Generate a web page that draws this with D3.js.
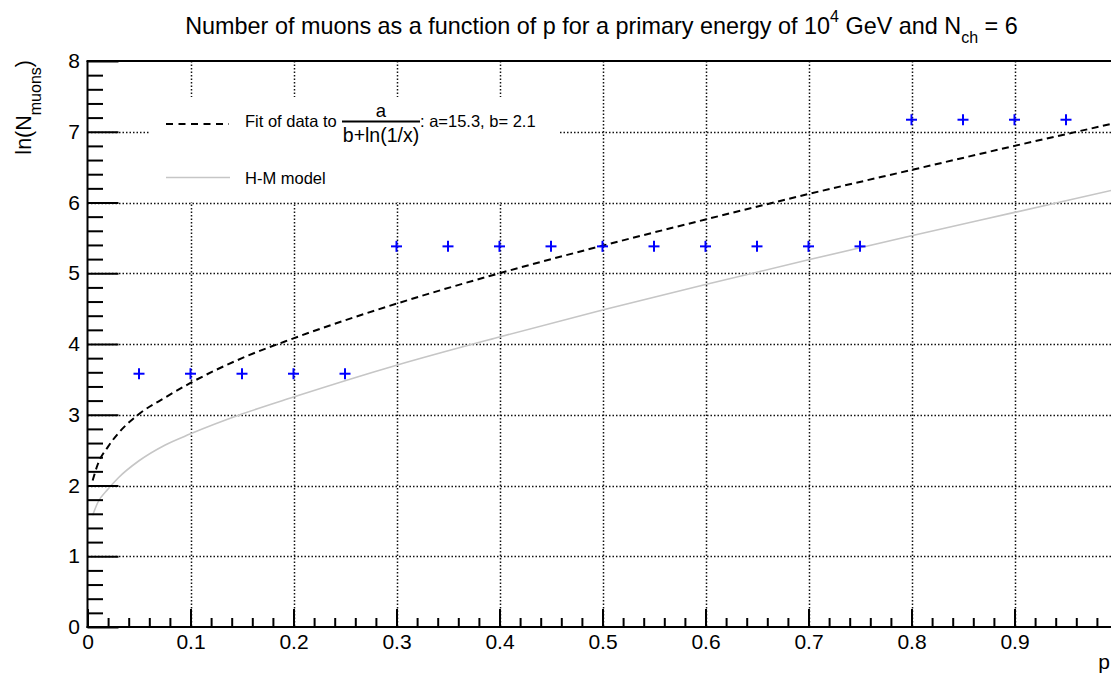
<!DOCTYPE html>
<html>
<head>
<meta charset="utf-8">
<script src="https://cdn.jsdelivr.net/npm/d3@7"></script>
<style>
  html, body { margin: 0; padding: 0; background: #fff; }
  svg { display: block; font-family: "Liberation Sans", Arial, Helvetica, sans-serif; }
</style>
</head>
<body>
<svg id="chart" width="1111" height="676"></svg>
<script>
// ---------- data ----------
const pointX = [0.05, 0.10, 0.15, 0.20, 0.25, 0.30, 0.35, 0.40, 0.45, 0.50,
                0.55, 0.60, 0.65, 0.70, 0.75, 0.80, 0.85, 0.90, 0.95];
const pointY = [3.58, 3.58, 3.58, 3.58, 3.58, 5.38, 5.38, 5.38, 5.38, 5.38,
                5.38, 5.38, 5.38, 5.38, 5.38, 7.17, 7.17, 7.17, 7.17];

const curveX   = [0.005, 0.01, 0.02, 0.03, 0.05, 0.075, 0.10, 0.15, 0.20, 0.30, 0.40, 0.50, 0.60, 0.70, 0.80, 0.90, 1.00];
const fitY     = [2.07, 2.30, 2.55, 2.74, 3.01, 3.24, 3.45, 3.80, 4.08, 4.57, 5.00, 5.39, 5.76, 6.12, 6.46, 6.80, 7.13];
const hmY      = [1.58, 1.76, 1.95, 2.11, 2.35, 2.57, 2.73, 3.01, 3.25, 3.70, 4.10, 4.48, 4.84, 5.19, 5.53, 5.86, 6.19];

const xMajorTicks = [0, 0.1, 0.2, 0.3, 0.4, 0.5, 0.6, 0.7, 0.8, 0.9];
const xTickLabels = ["0", "0.1", "0.2", "0.3", "0.4", "0.5", "0.6", "0.7", "0.8", "0.9"];
const yMajorTicks = [0, 1, 2, 3, 4, 5, 6, 7, 8];
const yTickLabels = ["0", "1", "2", "3", "4", "5", "6", "7", "8"];

// ---------- layout ----------
const svg = d3.select("#chart");
const L = 87.5, R = 1117.5, T = 61, B = 627;
const x = d3.scaleLinear().domain([0, 1]).range([L, R]);
const y = d3.scaleLinear().domain([0, 8]).range([B, T]);

const xMinor = d3.range(0, 50).map(i => i * 0.02).filter(v => Math.abs(v * 10 - Math.round(v * 10)) > 1e-6);
const yMinor = d3.range(0, 40).map(i => i * 0.2).filter(v => Math.abs(v - Math.round(v)) > 1e-6);

// grid
const grid = svg.append("g").attr("stroke", "#111").attr("stroke-width", 1.5).attr("stroke-dasharray", "1.5,2");
grid.selectAll("line.v").data(xMajorTicks.filter(v => v > 0)).join("line")
  .attr("x1", d => Math.round(x(d)) + 0.5).attr("x2", d => Math.round(x(d)) + 0.5)
  .attr("y1", T).attr("y2", B);
grid.selectAll("line.h").data(yMajorTicks.filter(v => v > 0 && v < 8)).join("line")
  .attr("x1", L).attr("x2", 1111)
  .attr("y1", d => Math.round(y(d)) + 0.5).attr("y2", d => Math.round(y(d)) + 0.5);

// clip
svg.append("clipPath").attr("id", "clip").append("rect")
  .attr("x", L).attr("y", T).attr("width", R - L).attr("height", B - T);

const lineGen = (ys) => d3.line()
  .x((d, i) => x(curveX[i]))
  .y(d => y(d))
  .curve(d3.curveMonotoneX)(ys);

// H-M model
svg.append("path").attr("clip-path", "url(#clip)")
  .attr("d", lineGen(hmY))
  .attr("fill", "none").attr("stroke", "#c6c6c6").attr("stroke-width", 1.6);

// fit
svg.append("path").attr("clip-path", "url(#clip)")
  .attr("d", lineGen(fitY))
  .attr("fill", "none").attr("stroke", "#000").attr("stroke-width", 2)
  .attr("stroke-dasharray", "7,4.5");

// markers
const arm = 5.5;
const mk = svg.append("g").attr("stroke", "#0000ff").attr("stroke-width", 2);
pointX.forEach((px, i) => {
  const cx = x(px), cy = y(pointY[i]);
  mk.append("line").attr("x1", cx - arm).attr("x2", cx + arm).attr("y1", cy).attr("y2", cy);
  mk.append("line").attr("x1", cx).attr("x2", cx).attr("y1", cy - arm).attr("y2", cy + arm);
});

// axes
const fs = 21;
const xAxis = d3.axisBottom(x).tickValues(xMajorTicks)
  .tickFormat((d, i) => xTickLabels[i]).tickSizeInner(-18).tickSizeOuter(0).tickPadding(7);
const gx = svg.append("g").attr("transform", `translate(0,${B})`).call(xAxis);
gx.append("g").call(d3.axisBottom(x).tickValues(xMinor).tickFormat("").tickSizeInner(-9).tickSizeOuter(0));
gx.selectAll("path.domain").remove();
gx.selectAll("line").attr("stroke", "#000").attr("stroke-width", 2);
gx.selectAll("text").attr("font-size", fs).attr("fill", "#000").attr("font-family", "Liberation Sans, Arial, sans-serif");

const yAxis = d3.axisLeft(y).tickValues(yMajorTicks)
  .tickFormat((d, i) => yTickLabels[i]).tickSizeInner(-31).tickSizeOuter(0).tickPadding(7.5);
const gy = svg.append("g").attr("transform", `translate(${L},0)`).call(yAxis);
gy.append("g").call(d3.axisLeft(y).tickValues(yMinor).tickFormat("").tickSizeInner(-15.5).tickSizeOuter(0));
gy.selectAll("path.domain").remove();
gy.selectAll("line").attr("stroke", "#000").attr("stroke-width", 2);
gy.selectAll("text").attr("font-size", fs).attr("fill", "#000").attr("font-family", "Liberation Sans, Arial, sans-serif");

// frame lines (left, bottom, top)
const frame = svg.append("g").attr("stroke", "#000").attr("stroke-width", 2).attr("fill", "none");
frame.append("line").attr("x1", L).attr("x2", L).attr("y1", T).attr("y2", B + 1);
frame.append("line").attr("x1", L - 1).attr("x2", 1111).attr("y1", B).attr("y2", B);
frame.append("line").attr("x1", L - 1).attr("x2", 1111).attr("y1", T).attr("y2", T);

// legend
svg.append("rect").attr("x", 150).attr("y", 97).attr("width", 410).attr("height", 105).attr("fill", "#fff");
svg.append("line").attr("x1", 166).attr("x2", 229).attr("y1", 124).attr("y2", 124)
  .attr("stroke", "#000").attr("stroke-width", 2).attr("stroke-dasharray", "7,5.5");
svg.append("line").attr("x1", 166).attr("x2", 230).attr("y1", 177.5).attr("y2", 177.5)
  .attr("stroke", "#c6c6c6").attr("stroke-width", 1.6);
const lfs = 16.5;
svg.append("text").attr("x", 245).attr("y", 127).attr("font-size", lfs).text("Fit of data to");
svg.append("text").attr("x", 381).attr("y", 117).attr("font-size", 18.5).attr("text-anchor", "middle").text("a");
svg.append("line").attr("x1", 342).attr("x2", 420).attr("y1", 121.5).attr("y2", 121.5).attr("stroke", "#000").attr("stroke-width", 2);
svg.append("text").attr("x", 381).attr("y", 142).attr("font-size", 19.5).attr("text-anchor", "middle").text("b+ln(1/x)");
svg.append("text").attr("x", 420).attr("y", 127).attr("font-size", lfs).text(": a=15.3, b= 2.1");
svg.append("text").attr("x", 245).attr("y", 184).attr("font-size", lfs).text("H-M model");

// title
const title = svg.append("text").attr("x", 601.5).attr("y", 34).attr("text-anchor", "middle").attr("font-size", 23.4);
title.append("tspan").text("Number of muons as a function of p for a primary energy of 10");
title.append("tspan").attr("dy", -12).attr("font-size", 16).text("4");
title.append("tspan").attr("dy", 12).text(" GeV and N");
title.append("tspan").attr("dy", 9).attr("font-size", 16).text("ch");
title.append("tspan").attr("dy", -9).text(" = 6");

// axis titles
svg.append("text").attr("x", 1110).attr("y", 669).attr("text-anchor", "end").attr("font-size", fs).text("p");
const yt = svg.append("text").attr("transform", "translate(31,60) rotate(-90)")
  .attr("text-anchor", "end").attr("font-size", 21.5);
yt.append("tspan").text("ln(N");
yt.append("tspan").attr("dy", 10).attr("font-size", 16).text("muons");
yt.append("tspan").attr("dy", -10).text(")");
</script>
</body>
</html>
